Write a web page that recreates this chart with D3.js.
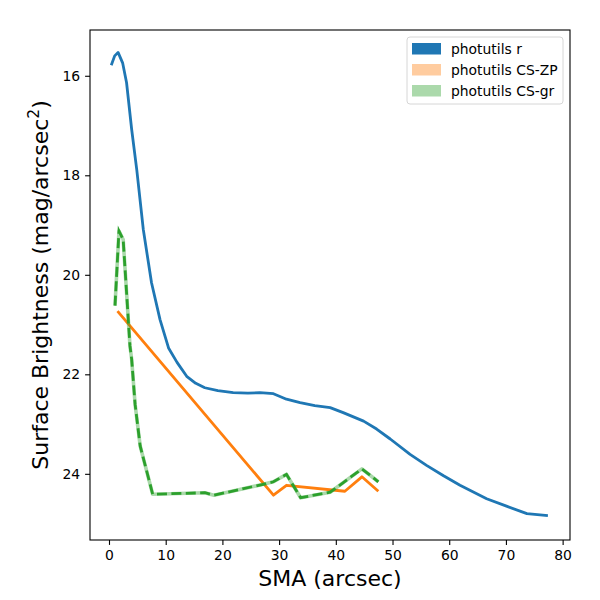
<!DOCTYPE html>
<html>
<head>
<meta charset="utf-8">
<script src="https://cdn.jsdelivr.net/npm/d3@7"></script>
<style>
  body { margin: 0; background: #fff; }
  svg { font-family: "DejaVu Sans", sans-serif; }
</style>
</head>
<body>
<svg id="chart" width="600" height="600"></svg>
<script>
// Profile data
const rSma = [0.4, 1.0, 1.6, 2.4, 3.1, 4.0, 4.9, 6.05, 7.5, 9.0, 10.5, 12.0, 13.7, 15.3, 16.9, 19.2, 21.9, 24.5, 26.6, 29.0, 31.3, 33.7, 36.3, 39.0, 41.3, 44.9, 47.2, 49.6, 53.1, 56.0, 59.0, 61.9, 66.6, 70.1, 73.7, 77.4];
const rMag = [15.79, 15.6, 15.53, 15.74, 16.14, 17.08, 17.89, 19.09, 20.16, 20.9, 21.47, 21.76, 22.04, 22.18, 22.27, 22.33, 22.37, 22.38, 22.37, 22.39, 22.5, 22.57, 22.63, 22.67, 22.77, 22.94, 23.1, 23.3, 23.61, 23.83, 24.04, 24.23, 24.5, 24.65, 24.8, 24.84];

const zpSma = [1.5, 29.0, 31.3, 41.6, 44.6, 47.5];
const zpMag = [20.73, 24.43, 24.23, 24.35, 24.06, 24.35];

const grSma = [1.06, 1.76, 2.5, 3.7, 4.0, 4.6, 5.5, 7.7, 16.9, 18.5, 27.2, 29.0, 31.3, 33.8, 39.0, 44.6, 47.5];
const grMag = [20.62, 19.12, 19.29, 21.43, 21.7, 22.6, 23.44, 24.41, 24.38, 24.43, 24.21, 24.16, 24.01, 24.48, 24.37, 23.9, 24.16];

const xTicks = [0, 10, 20, 30, 40, 50, 60, 70, 80];
const yTicks = [16, 18, 20, 22, 24];

const legendLabels = ['photutils r', 'photutils CS-ZP', 'photutils CS-gr'];

const margin = { top: 30, right: 30, bottom: 60, left: 90 };
const width = 600 - margin.left - margin.right;
const height = 600 - margin.top - margin.bottom;

const svg = d3.select('#chart');
const g = svg.append('g')
  .attr('transform', `translate(${margin.left}, ${margin.top})`);

const x = d3.scaleLinear().domain([-3.35, 81.3]).range([0, width]);
const y = d3.scaleLinear().domain([15.08, 25.33]).range([0, height]);

const toPts = (xs, ys) => xs.map((v, i) => [v, ys[i]]);
const line = d3.line().x(d => x(d[0])).y(d => y(d[1]));

// lines
g.append('path')
  .datum(toPts(rSma, rMag))
  .attr('d', line)
  .attr('fill', 'none')
  .attr('stroke', '#1f77b4')
  .attr('stroke-width', 2.8)
  .attr('stroke-linejoin', 'round');

g.append('path')
  .datum(toPts(zpSma, zpMag))
  .attr('d', line)
  .attr('fill', 'none')
  .attr('stroke', '#ff7f0e')
  .attr('stroke-width', 2.8)
  .attr('stroke-linejoin', 'round');

// light band under the dashed green line
g.append('path')
  .datum(toPts(grSma, grMag))
  .attr('d', line)
  .attr('fill', 'none')
  .attr('stroke', '#2ca02c')
  .attr('stroke-opacity', 0.4)
  .attr('stroke-width', 3.6)
  .attr('stroke-linejoin', 'round');

g.append('path')
  .datum(toPts(grSma, grMag))
  .attr('d', line)
  .attr('fill', 'none')
  .attr('stroke', '#2ca02c')
  .attr('stroke-width', 2.8)
  .attr('stroke-dasharray', '10,4.4');

// axes
const xAxis = d3.axisBottom(x).tickValues(xTicks).tickSize(4.9).tickPadding(4.9);
const yAxis = d3.axisLeft(y).tickValues(yTicks).tickSize(4.9).tickPadding(4.9);

const gx = g.append('g')
  .attr('transform', `translate(0, ${height})`)
  .call(xAxis);
const gy = g.append('g').call(yAxis);

[gx, gy].forEach(ax => {
  ax.select('.domain').remove();
  ax.selectAll('.tick line').attr('stroke', '#000').attr('stroke-width', 1.1);
  ax.selectAll('.tick text')
    .attr('fill', '#000')
    .style('font-family', '"DejaVu Sans", sans-serif')
    .style('font-size', '13.9px');
});

g.append('rect')
  .attr('width', width)
  .attr('height', height)
  .attr('fill', 'none')
  .attr('stroke', '#000')
  .attr('stroke-width', 1.1);

// axis labels
svg.append('text')
  .attr('x', margin.left + width / 2)
  .attr('y', 586)
  .attr('text-anchor', 'middle')
  .style('font-size', '22px')
  .text('SMA (arcsec)');

const yl = svg.append('text')
  .attr('transform', `translate(48, ${margin.top + height / 2}) rotate(-90)`)
  .attr('text-anchor', 'middle')
  .style('font-size', '22px');
yl.append('tspan').text('Surface Brightness (mag/arcsec');
yl.append('tspan').attr('dy', -9).style('font-size', '15.5px').text('2');
yl.append('tspan').attr('dy', 9).text(')');

// legend
const legendColors = ['#1f77b4', 'rgba(255,127,14,0.4)', 'rgba(44,160,44,0.4)'];
const legend = svg.append('g').attr('transform', 'translate(407, 37)');
legend.append('rect')
  .attr('width', 156)
  .attr('height', 67)
  .attr('rx', 3)
  .attr('fill', '#fff')
  .attr('fill-opacity', 0.8)
  .attr('stroke', '#d6d6d6');

legendLabels.forEach((label, i) => {
  const row = legend.append('g').attr('transform', `translate(0, ${12 + i * 21})`);
  row.append('rect')
    .attr('x', 5)
    .attr('y', -6)
    .attr('width', 29)
    .attr('height', 11.5)
    .attr('fill', legendColors[i]);
  row.append('text')
    .attr('x', 44)
    .attr('y', 5)
    .style('font-size', '13.9px')
    .text(label);
});
</script>
</body>
</html>
